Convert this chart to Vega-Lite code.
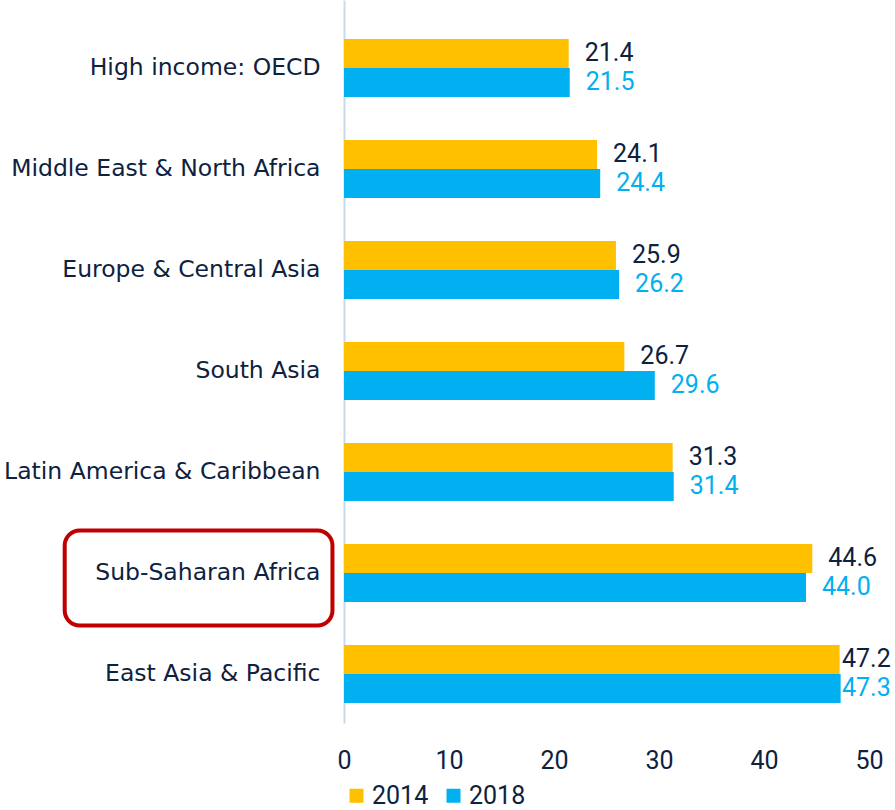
{
  "$schema": "https://vega.github.io/schema/vega-lite/v6.json",
  "width": 525,
  "height": 723,
  "autosize": {"type": "none"},
  "padding": {"left": 344, "top": 0, "right": 26, "bottom": 87},
  "background": "white",
  "config": {
    "view": {"stroke": null},
    "font": "Roboto",
    "axis": {"labelFont": "Roboto", "labelColor": "#0D2240", "labelFontSize": 25, "grid": false},
    "legend": {"labelFont": "Roboto"}
  },
  "data": {
    "values": [
      {"region": "High income: OECD", "year": "2014", "value": 21.4},
      {"region": "High income: OECD", "year": "2018", "value": 21.5},
      {"region": "Middle East & North Africa", "year": "2014", "value": 24.1},
      {"region": "Middle East & North Africa", "year": "2018", "value": 24.4},
      {"region": "Europe & Central Asia", "year": "2014", "value": 25.9},
      {"region": "Europe & Central Asia", "year": "2018", "value": 26.2},
      {"region": "South Asia", "year": "2014", "value": 26.7},
      {"region": "South Asia", "year": "2018", "value": 29.6},
      {"region": "Latin America & Caribbean", "year": "2014", "value": 31.3},
      {"region": "Latin America & Caribbean", "year": "2018", "value": 31.4},
      {"region": "Sub-Saharan Africa", "year": "2014", "value": 44.6},
      {"region": "Sub-Saharan Africa", "year": "2018", "value": 44.0},
      {"region": "East Asia & Pacific", "year": "2014", "value": 47.2},
      {"region": "East Asia & Pacific", "year": "2018", "value": 47.3}
    ]
  },
  "encoding": {
    "y": {
      "field": "region",
      "type": "nominal",
      "sort": ["High income: OECD", "Middle East & North Africa", "Europe & Central Asia", "South Asia", "Latin America & Caribbean", "Sub-Saharan Africa", "East Asia & Pacific"],
      "scale": {"paddingInner": 0.426, "paddingOuter": 0.292, "align": 0.66},
      "title": null,
      "axis": {"domain": true, "domainColor": "#C5DCF0", "domainWidth": 2, "ticks": false, "tickSize": 0, "labelPadding": 24, "labelLimit": 500, "labelFont": "DejaVu Sans", "labelFontSize": 23.5}
    },
    "x": {
      "type": "quantitative",
      "scale": {"domain": [0, 50], "nice": false},
      "title": null,
      "axis": {"domain": false, "ticks": false, "tickSize": 0, "labelPadding": 25, "values": [0, 10, 20, 30, 40, 50], "labelFlush": false}
    }
  },
  "layer": [
    {
      "mark": {"type": "bar"},
      "encoding": {
        "x": {"field": "value", "type": "quantitative"},
        "yOffset": {"field": "year", "type": "nominal", "scale": {"paddingInner": 0, "paddingOuter": 0}},
        "color": {
          "field": "year",
          "type": "nominal",
          "scale": {"domain": ["2014", "2018"], "range": ["#FFC000", "#00B0F0"]},
          "legend": {
            "title": null,
            "orient": "bottom",
            "direction": "horizontal",
            "symbolType": "square",
            "symbolSize": 196,
            "symbolStrokeWidth": 0,
            "labelFontSize": 25,
            "labelColor": "#0D2240",
            "labelOffset": 3,
            "columnPadding": 12,
            "offset": 10,
            "padding": 0
          }
        }
      }
    },
    {
      "transform": [{"calculate": "min(datum.value, 45.9)", "as": "labelPos"}],
      "mark": {"type": "text", "align": "left", "baseline": "middle", "dx": 16, "fontSize": 25, "clip": false},
      "encoding": {
        "x": {"field": "labelPos", "type": "quantitative"},
        "yOffset": {"field": "year", "type": "nominal", "scale": {"paddingInner": 0, "paddingOuter": 0}},
        "text": {"field": "value", "type": "quantitative", "format": ".1f"},
        "color": {"condition": {"test": "datum.year == '2014'", "value": "#0D2240"}, "value": "#00B0F0"}
      }
    },
    {
      "data": {"values": [{"region": "Sub-Saharan Africa"}]},
      "mark": {"type": "bar", "height": 95, "yOffset": 5, "cornerRadius": 15, "fill": "transparent", "stroke": "#C00000", "strokeWidth": 4, "clip": false},
      "encoding": {
        "x": {"datum": -26.6, "type": "quantitative"},
        "x2": {"datum": -1.1}
      }
    }
  ]
}
